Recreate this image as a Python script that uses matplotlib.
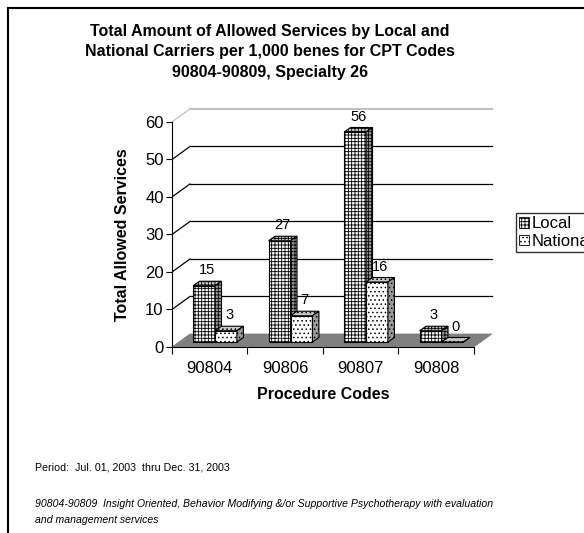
import matplotlib
matplotlib.use("Agg")
import matplotlib.pyplot as plt
from matplotlib.patches import Polygon

plt.rcParams['font.family'] = ['Liberation Sans', 'DejaVu Sans']
plt.rcParams['hatch.linewidth'] = 0.6

# data
codes = ['90804', '90806', '90807', '90808']
local = [15, 27, 56, 3]
national = [3, 7, 16, 0]
yticks = [0, 10, 20, 30, 40, 50, 60]

fig = plt.figure(figsize=(5.84, 5.33), dpi=100)
ax = fig.add_axes([0.2945, 0.349, 0.5559, 0.4538])
ax.set_xlim(0, 4.3)
ax.set_ylim(0, 64.5)

# pseudo 3d offsets (back wall, bar placement, bar depth)
dxb, dyb = 0.238, 3.47
sx, sy = 0.07, 1.33
ddx, ddy = 0.086, 1.2
bw = 0.29
n = len(codes)

# floor
ax.add_patch(Polygon([(0, 0), (n, 0), (n + dxb, dyb), (dxb, dyb)],
                     closed=True, facecolor='#808080', edgecolor='#808080', lw=0.5, zorder=1))

# back wall gridlines and side diagonals
for v in yticks[1:]:
    col = '#c0c0c0' if v == yticks[-1] else 'black'
    lw = 1.5 if v == yticks[-1] else 0.9
    ax.plot([dxb, n + dxb], [v + dyb, v + dyb], color=col, lw=lw, zorder=1)
    ax.plot([0, dxb], [v, v + dyb], color=col, lw=0.9, zorder=1)


def draw_bars(vals, xoff, hatch):
    xs = [i + xoff + sx for i in range(n)]
    ax.bar(xs, vals, width=bw, bottom=sy, align='edge', facecolor='white',
           edgecolor='black', hatch=hatch, lw=0.8, zorder=3)
    for x, v in zip(xs, vals):
        top = v + sy
        ax.add_patch(Polygon([(x, top), (x + bw, top), (x + bw + ddx, top + ddy), (x + ddx, top + ddy)],
                             closed=True, facecolor='#c8c8c8', edgecolor='black', hatch=hatch, lw=0.8, zorder=3))
        ax.add_patch(Polygon([(x + bw, sy), (x + bw + ddx, sy + ddy), (x + bw + ddx, top + ddy), (x + bw, top)],
                             closed=True, facecolor='#9a9a9a', edgecolor='black', hatch=hatch, lw=0.8, zorder=3))
        ax.text(x + bw / 2 + ddx / 2, top + ddy + 1.0, str(v), ha='center', va='bottom',
                fontsize=10.5, zorder=4)


draw_bars(local, 0.21, '+++++')
draw_bars(national, 0.50, '....')

# axes styling
for s in ['top', 'right']:
    ax.spines[s].set_visible(False)
ax.spines['left'].set_bounds(0, 60)
ax.spines['bottom'].set_bounds(0, n)
ax.set_yticks(yticks)
ax.tick_params(axis='y', labelsize=12, length=4, pad=2)
ax.set_xticks(range(n + 1))
ax.set_xticklabels([])
ax.tick_params(axis='x', which='major', length=5)
ax.set_xticks([i + 0.5 for i in range(n)], minor=True)
ax.set_xticklabels(codes, minor=True, fontsize=12)
ax.tick_params(axis='x', which='minor', length=0, pad=10)
ax.set_xlabel('Procedure Codes', fontsize=11.5, fontweight='bold')
ax.xaxis.set_label_coords(2 / 4.3, -0.165)
ax.set_ylabel('Total Allowed Services', fontsize=11.5, fontweight='bold')
ax.yaxis.set_label_coords(-0.13, 0.5 * 60 / 64.5)

fig.text(270 / 584, 1 - 24 / 533,
         'Total Amount of Allowed Services by Local and\n'
         'National Carriers per 1,000 benes for CPT Codes\n'
         '90804-90809, Specialty 26',
         ha='center', va='top', fontsize=11.5, fontweight='bold', linespacing=1.45)

# legend
hl = ax.bar([0], [0], color='white', edgecolor='black', hatch='+++++', lw=0.6, label='Local')
hn = ax.bar([0], [0], color='white', edgecolor='black', hatch='....', lw=0.6, label='National')
fig.legend(handles=[hl, hn], labels=['Local', 'National'], loc='upper left',
           bbox_to_anchor=(516 / 584, 1 - 213 / 533), fontsize=12, frameon=True,
           fancybox=False, edgecolor='black', handlelength=0.6, handleheight=0.6,
           handletextpad=0.15, borderpad=0.2, labelspacing=0.15, borderaxespad=0)

# footer notes
fig.text(35 / 584, 1 - 467 / 533, 'Period:  Jul. 01, 2003  thru Dec. 31, 2003',
         fontsize=7.7, va='center')
fig.text(35 / 584, 1 - 512 / 533,
         '90804-90809  Insight Oriented, Behavior Modifying &/or Supportive Psychotherapy with evaluation\n'
         'and management services', fontsize=7.6, style='italic', va='center', linespacing=1.8)

# outer frame
fig.add_artist(plt.Line2D([8 / 584, 8 / 584], [0, 1 - 8 / 533], color='black', lw=1.5))
fig.add_artist(plt.Line2D([8 / 584, 1], [1 - 8 / 533, 1 - 8 / 533], color='black', lw=1.5))

fig.savefig('out.png', dpi=100)
